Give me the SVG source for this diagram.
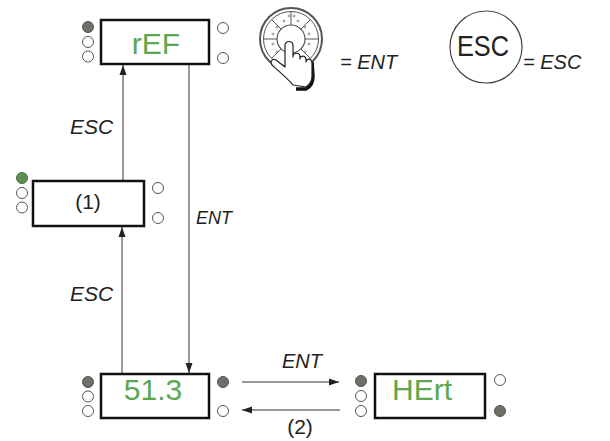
<svg xmlns="http://www.w3.org/2000/svg" width="610" height="441" viewBox="0 0 610 441">
<style>
.box{fill:#fff;stroke:#111;stroke-width:2.5}
.led{fill:#fff;stroke:#555;stroke-width:1}
.on{fill:#6e6f67;stroke:#555;stroke-width:1}
.grn{fill:#5e8f4e;stroke:#4a7040;stroke-width:1}
.disp{font-family:"Liberation Sans",Arial,sans-serif;font-size:30px;fill:#5aa850;text-anchor:middle}
.lbl{font-family:"Liberation Sans",Arial,sans-serif;font-size:21px;font-style:italic;fill:#222}
.plain{font-family:"Liberation Sans",Arial,sans-serif;font-size:21px;fill:#222;text-anchor:middle}
.ln{stroke:#333;stroke-width:1;fill:none}
</style>
<defs>
<marker id="ah" viewBox="0 0 10 10" refX="10" refY="5" markerWidth="10" markerHeight="10" markerUnits="userSpaceOnUse" orient="auto">
<path d="M0,1.5 L10,5 L0,8.5 Z" fill="#222"/>
</marker>
</defs>
<rect width="610" height="441" fill="#fff"/>

<g id="connectors">
<line class="ln" x1="123" y1="181" x2="123" y2="65" marker-end="url(#ah)"/>
<line class="ln" x1="189" y1="65" x2="189" y2="373" marker-end="url(#ah)"/>
<line class="ln" x1="122" y1="374" x2="122" y2="227" marker-end="url(#ah)"/>
<line class="ln" x1="242" y1="382" x2="339" y2="382" marker-end="url(#ah)"/>
<line class="ln" x1="340" y1="410" x2="242" y2="410" marker-end="url(#ah)"/>
<text class="lbl" x="70" y="134">ESC</text>
<text class="lbl" x="196" y="224" style="font-size:18px">ENT</text>
<text class="lbl" x="282" y="368" style="font-size:20px">ENT</text>
<text class="lbl" x="70" y="301">ESC</text>
<text class="plain" x="300" y="434">(2)</text>
</g>

<g id="node-rEF">
<rect class="box" x="101" y="20" width="108" height="44"/>
<text class="disp" x="156" y="54">rEF</text>
<circle class="on" cx="88" cy="27" r="5.5"/>
<circle class="led" cx="88" cy="42" r="5.5"/>
<circle class="led" cx="88" cy="56.5" r="5.5"/>
<circle class="led" cx="223" cy="28" r="5.5"/>
<circle class="led" cx="223" cy="58" r="5.5"/>
</g>

<g id="node-1">
<rect class="box" x="33" y="181" width="111" height="45"/>
<text class="plain" x="88" y="209">(1)</text>
<circle class="grn" cx="22" cy="178" r="5.5"/>
<circle class="led" cx="22" cy="193" r="5.5"/>
<circle class="led" cx="22" cy="207.5" r="5.5"/>
<circle class="led" cx="158" cy="188" r="5.5"/>
<circle class="led" cx="158" cy="218" r="5.5"/>
</g>

<g id="node-51">
<rect class="box" x="101" y="374" width="108" height="44"/>
<text class="disp" x="153" y="400">51.3</text>
<circle class="on" cx="88" cy="382" r="5.5"/>
<circle class="led" cx="88" cy="396.5" r="5.5"/>
<circle class="led" cx="88" cy="411" r="5.5"/>
<circle class="on" cx="223" cy="382" r="5.5"/>
<circle class="led" cx="223" cy="411" r="5.5"/>
</g>

<g id="node-HErt">
<rect class="box" x="375" y="374" width="110" height="44"/>
<text class="disp" x="422" y="400">HErt</text>
<circle class="on" cx="361" cy="381" r="5.5"/>
<circle class="led" cx="361" cy="396" r="5.5"/>
<circle class="led" cx="361" cy="411" r="5.5"/>
<circle class="led" cx="500" cy="380" r="5.5"/>
<circle class="on" cx="500" cy="411" r="5.5"/>
</g>

<g id="legend-ent">
<circle cx="291" cy="39" r="31" fill="#fff" stroke="#555" stroke-width="2"/>
<circle cx="291" cy="39" r="27.5" fill="none" stroke="#555" stroke-width="1"/>
<circle cx="291" cy="39" r="14" fill="#fff" stroke="#555" stroke-width="1.2"/>
<g stroke="#555" stroke-width="1">
<line x1="305" y1="39" x2="318.5" y2="39"/>
<line x1="277" y1="39" x2="263.5" y2="39"/>
<line x1="291" y1="25" x2="291" y2="11.5"/>
<line x1="291" y1="53" x2="291" y2="66.5"/>
<line x1="300.9" y1="29.1" x2="310.4" y2="19.6"/>
<line x1="281.1" y1="29.1" x2="271.6" y2="19.6"/>
<line x1="300.9" y1="48.9" x2="310.4" y2="58.4"/>
<line x1="281.1" y1="48.9" x2="271.6" y2="58.4"/>
</g>
<g fill="none" stroke="#777" stroke-width="0.8">
<circle cx="284" cy="21" r="1"/><circle cx="298" cy="21" r="1"/>
<circle cx="305" cy="27" r="1"/><circle cx="309" cy="34" r="1"/>
<circle cx="309" cy="44" r="1"/><circle cx="305" cy="52" r="1"/>
<circle cx="277" cy="27" r="1"/><circle cx="273" cy="34" r="1"/>
<circle cx="273" cy="44" r="1"/><circle cx="277" cy="52" r="1"/>
<circle cx="289" cy="16" r="1"/><circle cx="294" cy="16" r="1"/>
</g>
<path d="M300,56 L300,60 M312,62 L313,76 C313,83 310,87 306,89 L296,89" fill="none" stroke="#111" stroke-width="3.5"/>
<path d="M293,85 C288,79 281,73 273,66 C269,62 272,58 276,60 L285,67 L285,46 C285,40 293,40 293,46 L293,57 C293,52 300,52 300,57 L300,59 C300,55 306,55 306,60 L306,62 C306,58 312,58 312,63 L312,76 C312,81 309,85 306,87 Z" fill="#fff" stroke="#222" stroke-width="1.2" stroke-linejoin="round"/>
<text class="lbl" x="340" y="69" style="font-size:20px">= ENT</text>
</g>

<g id="legend-esc">
<circle cx="486" cy="47" r="36" fill="#fff" stroke="#444" stroke-width="1.2"/>
<text x="483" y="56" textLength="52" lengthAdjust="spacingAndGlyphs" style="font-family:'Liberation Sans',Arial,sans-serif;font-size:30px;fill:#222;text-anchor:middle">ESC</text>
<text class="lbl" x="523" y="69" style="font-size:20px">= ESC</text>
</g>
</svg>
